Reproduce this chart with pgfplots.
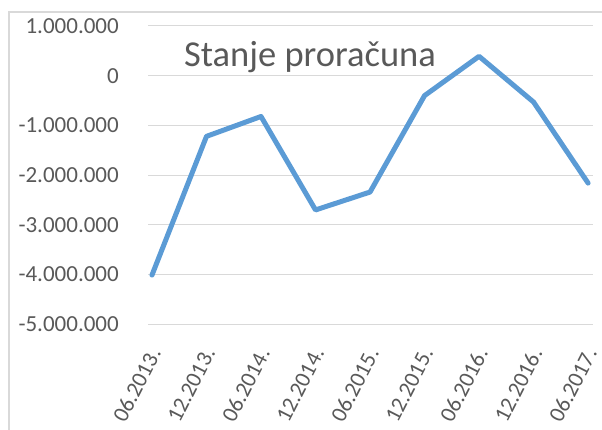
\documentclass[border=0pt]{standalone}
\usepackage{pgfplots}
\pgfplotsset{compat=1.18}
\usepackage{fontspec}
\setmainfont{Carlito}
\definecolor{txtgrey}{HTML}{595959}
\definecolor{gridgrey}{HTML}{D9D9D9}
\definecolor{lineblue}{HTML}{5B9BD5}
\begin{document}
\begin{tikzpicture}[x=1pt,y=1pt]
\useasboundingbox (0,0) rectangle (602,430);
\draw[gridgrey, line width=1.3pt] (9,0) -- (9,418) -- (602,418);
\begin{axis}[
  at={(148pt,105.7pt)}, anchor=south west,
  width=445pt, height=298.3pt, scale only axis,
  xmin=-0.073, xmax=8.09,
  ymin=-5000000, ymax=1000000,
  scaled y ticks=false,
  axis line style={draw=none},
  tick style={draw=none},
  ytick={-5000000,-4000000,-3000000,-2000000,-1000000,0,1000000},
  yticklabels={{-5.000.000},{-4.000.000},{-3.000.000},{-2.000.000},{-1.000.000},{0},{1.000.000}},
  xtick={0,1,2,3,4,5,6,7,8},
  xticklabels={06.2013.,12.2013.,06.2014.,12.2014.,06.2015.,12.2015.,06.2016.,12.2016.,06.2017.},
  ymajorgrids,
  grid style={gridgrey, line width=1pt},
  yticklabel style={font=\fontsize{23}{23}\selectfont, color=txtgrey, anchor=east, inner sep=0pt, xshift=-29pt},
  xticklabel style={font=\fontsize{22.5}{22.5}\selectfont, color=txtgrey, anchor=east, inner sep=0pt, yshift=-25pt, xshift=3pt, rotate=63},
  clip=false,
]
\addplot[lineblue, line width=5pt, line cap=round, line join=round] coordinates {
 (0,-4010000) (1,-1220000) (2,-820000) (3,-2700000) (4,-2340000)
 (5,-400000) (6,390000) (7,-530000) (8,-2160000)
};
\end{axis}
\node[anchor=base west, inner sep=0pt, font=\fontsize{36.5}{36.5}\selectfont, text=txtgrey] at (184,363) {Stanje proračuna};
\end{tikzpicture}
\end{document}
